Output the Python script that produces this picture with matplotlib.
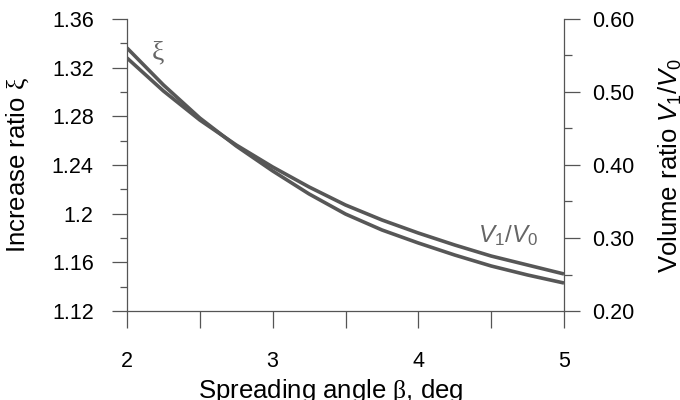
import matplotlib
matplotlib.use("Agg")
import matplotlib.pyplot as plt
from matplotlib.ticker import FixedLocator, MultipleLocator

plt.rcParams['font.family'] = ['Liberation Sans', 'DejaVu Sans']
plt.rcParams['mathtext.fontset'] = 'custom'
plt.rcParams['mathtext.rm'] = 'Liberation Sans'
plt.rcParams['mathtext.it'] = 'Liberation Sans:italic'
plt.rcParams['mathtext.tt'] = 'Liberation Serif'
plt.rcParams['xtick.labelsize'] = 15.5
plt.rcParams['ytick.labelsize'] = 15.5

# Data
beta = [2.0, 2.25, 2.5, 2.75, 3.0, 3.25, 3.5, 3.75, 4.0, 4.25, 4.5, 4.75, 5.0]
xi = [1.3362, 1.3058, 1.2786, 1.2556, 1.2351, 1.2162, 1.1997, 1.1866,
      1.1759, 1.1660, 1.1570, 1.1496, 1.1430]
v_ratio = [0.5466, 0.5014, 0.4616, 0.4274, 0.3973, 0.3699, 0.3452, 0.3247,
           0.3068, 0.2904, 0.2753, 0.2630, 0.2507]

x_ticks = [2, 3, 4, 5]
x_minor = [2.5, 3.5, 4.5]
left_ticks = [1.12, 1.16, 1.2, 1.24, 1.28, 1.32, 1.36]
left_labels = ['1.12', '1.16', '1.2', '1.24', '1.28', '1.32', '1.36']
right_ticks = [0.20, 0.30, 0.40, 0.50, 0.60]
right_labels = ['0.20', '0.30', '0.40', '0.50', '0.60']

line_col = '#575757'
axis_col = '#555555'
TICK_FS = 15.5
LABEL_FS = 18.5

fig = plt.figure(figsize=(6.8, 4.0), dpi=100)
ax = fig.add_axes([127/680, 1-311/400, (564-127)/680, (311-19)/400])
ax2 = ax.twinx()

ax.plot(beta, xi, color=line_col, lw=2.6, solid_capstyle='butt', zorder=3)
ax2.plot(beta, v_ratio, color=line_col, lw=2.6, solid_capstyle='butt', zorder=3)

ax.set_xlim(2, 5)
ax.set_ylim(1.12, 1.36)
ax2.set_ylim(0.20, 0.60)

for a in (ax, ax2):
    a.spines['top'].set_visible(False)
    for s in ('left', 'right', 'bottom'):
        a.spines[s].set_color(axis_col)
        a.spines[s].set_linewidth(0.9)
    a.patch.set_visible(False)
ax2.spines['left'].set_visible(False)
ax2.spines['bottom'].set_visible(False)
ax.spines['right'].set_visible(False)

ax.xaxis.set_major_locator(FixedLocator(x_ticks))
ax.xaxis.set_minor_locator(FixedLocator(x_minor))
ax.set_xticklabels([str(t) for t in x_ticks], fontsize=TICK_FS)
ax.yaxis.set_major_locator(FixedLocator(left_ticks))
ax.set_yticklabels(left_labels, fontsize=TICK_FS)
ax.yaxis.set_minor_locator(MultipleLocator(0.02))
ax2.yaxis.set_major_locator(FixedLocator(right_ticks))
ax2.set_yticklabels(right_labels, fontsize=TICK_FS)
ax2.yaxis.set_minor_locator(MultipleLocator(0.05))

ax.tick_params(axis='x', which='both', direction='out', length=12.5, width=0.9,
               color=axis_col, pad=16)
ax.tick_params(axis='y', which='major', direction='out', length=11, width=0.9,
               color=axis_col, pad=13)
ax.tick_params(axis='y', which='minor', direction='out', length=5, width=0.9,
               color=axis_col)
ax2.tick_params(axis='y', which='major', direction='out', length=11.5, width=0.9,
                color=axis_col, pad=8.5)
ax2.tick_params(axis='y', which='minor', direction='out', length=6, width=0.9,
                color=axis_col)

ax.set_xlabel('Spreading angle $\\mathtt{\\beta}$, deg', fontsize=LABEL_FS)
ax.xaxis.set_label_coords(0.467, -0.226)
ax.set_ylabel('Increase ratio $\\mathtt{\\xi}$', fontsize=LABEL_FS)
ax.yaxis.set_label_coords(-0.22, 0.5)
ax2.set_ylabel('Volume ratio $V_1/V_0$', fontsize=LABEL_FS, rotation=90)
ax2.yaxis.set_label_coords(1.213, 0.5)

ax.text(2.21, 1.332, 'ξ', fontsize=20, color='#666666', family='Liberation Serif',
        ha='center', va='center')
ax2.text(4.615, 0.304, '$V_1/V_0$', fontsize=17.5, color='#666666',
         ha='center', va='center')

fig.savefig('out.png', dpi=100)
